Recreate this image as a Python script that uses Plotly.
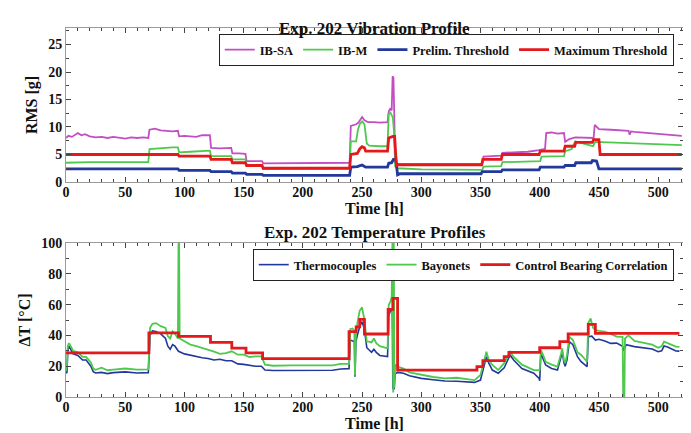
import plotly.graph_objects as go

# ---------------- Top panel: vibration RMS [g] ----------------
sa_t = [0, 2, 5, 8, 10, 13, 16, 20, 25, 30, 35, 40, 45, 50, 55, 60, 65, 69.5, 70.5, 75, 80, 85, 90, 94.5,
        95.5, 100, 105, 110, 115, 121.5, 122.5, 130, 139.5, 140.5, 146, 151.5, 152.5, 160, 165.5, 166.5,
        180, 200, 220, 239.5, 240.5, 245, 247, 250, 252, 255, 260, 265, 271.5, 272.5, 274, 275, 275.8,
        276.5, 277.2, 278, 280, 300, 320, 340, 351.5, 352.5, 360, 367.5, 368.5, 380, 390, 399.5, 404.5,
        405.5, 410, 415, 420.5, 421.5, 425, 430, 440, 445.5, 446.5, 448, 450, 460, 470, 475, 476, 477,
        480, 490, 500, 510, 520]
sa_v = [8.0, 8.4, 8.2, 8.6, 8.9, 8.5, 8.7, 8.3, 8.1, 8.2, 8.0, 8.2, 8.1, 7.9, 8.1, 8.0, 8.1, 8.0, 9.5, 9.7,
        9.4, 9.3, 9.2, 9.3, 8.3, 8.4, 8.3, 8.2, 8.5, 8.5, 6.2, 6.1, 6.2, 5.2, 5.2, 5.1, 3.8, 3.8, 3.8, 3.4,
        3.4, 3.4, 3.5, 3.5, 10.2, 10.5, 10.8, 11.8, 11.2, 10.9, 10.9, 10.8, 10.9, 12.8, 13.4, 13.0, 19.2,
        19.0, 12.0, 3.6, 3.3, 3.3, 3.4, 3.3, 3.3, 4.6, 4.7, 4.8, 5.3, 5.4, 5.5, 5.8, 6.0, 8.9, 9.0, 8.8,
        8.9, 7.3, 7.8, 8.1, 8.0, 8.0, 10.4, 10.0, 9.6, 9.5, 9.3, 9.3, 8.6, 9.2, 9.1, 8.9, 8.8, 8.6, 8.4]

m_t = [0, 10, 20, 40, 69.5, 70.5, 80, 90, 94.5, 95.5, 105, 115, 121.5, 122.5, 139.5, 140.5, 151.5, 152.5,
       165.5, 166.5, 200, 239.5, 240.5, 245, 246.5, 248, 250, 252, 254, 256, 265, 271.5, 272.5, 274, 276,
       277, 278, 280, 300, 351.5, 352.5, 367.5, 368.5, 400.5, 401.5, 420.5, 421.5, 427, 430, 436, 445,
       447, 460, 480, 500, 520]
m_v = [3.5, 3.6, 3.6, 3.6, 3.6, 6.0, 6.2, 6.3, 6.3, 5.4, 5.5, 5.6, 5.7, 4.7, 4.7, 4.1, 4.1, 3.1, 3.1, 2.4,
       2.4, 2.5, 7.4, 7.4, 9.5, 10.5, 11.0, 10.5, 7.0, 6.6, 6.5, 6.5, 12.3, 12.6, 11.7, 9.0, 2.8, 2.5, 2.3,
       2.2, 2.8, 2.9, 3.6, 3.8, 4.6, 4.7, 5.6, 6.0, 7.4, 7.0, 6.5, 7.3, 7.2, 7.1, 6.9, 6.7]

pre_t = [0, 94.5, 95.5, 121.5, 122.5, 139.5, 140.5, 151.5, 152.5, 165.5, 166.5, 239.5, 240.5, 246, 250,
         253, 271.5, 272.5, 275, 276.5, 278.5, 280, 282, 350.5, 351.5, 367.5, 368.5, 399.5, 400.5, 420.5,
         421.5, 429.5, 430.5, 443.5, 444.5, 448, 450, 520]
pre_v = [2.4, 2.4, 2.1, 2.1, 1.9, 1.9, 1.6, 1.6, 1.4, 1.4, 1.2, 1.2, 2.7, 2.8, 3.1, 2.7, 2.7, 3.4, 3.5, 4.1,
         4.1, 1.3, 1.5, 1.5, 1.9, 1.9, 2.2, 2.2, 2.7, 2.7, 3.0, 3.0, 3.5, 3.5, 3.9, 3.8, 2.4, 2.4]

max_t = [0, 94.5, 95.5, 121.5, 122.5, 139.5, 140.5, 151.5, 152.5, 165.5, 166.5, 239.5, 240.5, 246, 248,
         250, 252, 253, 271.5, 272.5, 276, 277.5, 279, 280, 351, 352, 367.5, 368.5, 399.5, 400.5, 420.5,
         421.5, 429.5, 430.5, 444.5, 445.5, 450, 451, 520]
max_v = [5.0, 5.0, 4.7, 4.7, 4.1, 4.1, 3.5, 3.5, 3.0, 3.0, 2.5, 2.5, 5.0, 5.2, 6.0, 6.4, 6.2, 5.6, 5.6, 8.0,
         8.3, 8.3, 3.0, 3.1, 3.1, 4.1, 4.1, 5.0, 5.0, 5.6, 5.6, 6.5, 6.5, 7.2, 7.2, 7.7, 7.7, 5.0, 5.0]

# ---------------- Bottom panel: temperature dT [C] ----------------
tc_t = [0, 0.8, 1.5, 2.5, 4, 6, 10, 14, 17, 19, 21, 23, 25, 30, 35, 40, 50, 60, 69.5, 71, 73, 76, 80, 84,
        86, 88, 90, 92, 95, 100, 105, 110, 115, 120, 125, 130, 135, 140, 145, 150, 155, 160, 165, 168, 175,
        190, 210, 225, 232, 239, 240, 242, 243.5, 244, 244.8, 246, 248, 250, 252, 254, 256, 258, 260, 262,
        265, 271.5, 272.5, 274, 275.5, 276, 277, 278, 280, 285, 290, 300, 310, 320, 330, 345, 350, 353, 355,
        357, 360, 365, 370, 375, 378, 385, 395, 399.5, 400, 401, 403, 405, 410, 415, 418, 419, 420.5, 421.5,
        423, 425, 428, 432, 435, 440, 441, 444, 447, 450, 455, 460, 465, 470, 471, 473, 480, 490, 495, 500,
        503, 505, 508, 515, 518]
tc_v = [15.5, 16, 30, 33, 31, 28, 27, 24, 24, 22, 20, 16.5, 15.6, 16, 15.2, 15.8, 16.3, 15.6, 15.8, 40, 43,
        42.6, 41, 38, 33, 31, 34, 33, 29.7, 28, 27, 26, 25.5, 25, 24, 24.5, 23.5, 23.5, 21.5, 21.2, 20.5, 20,
        20, 17.5, 17.2, 17.3, 17.5, 17.4, 18.2, 18.4, 37, 36.5, 36, 13.2, 36, 40, 45.6, 48.9, 44, 32, 30.5,
        29, 31, 29, 27, 26.2, 53, 56, 56.5, 5.6, 5, 15, 16, 15.4, 13.8, 12.1, 11.2, 10.4, 10.2, 9.5, 11, 20,
        26.2, 22, 17.5, 15.4, 19, 27.3, 24, 18.5, 15.4, 12.1, 10.5, 28.4, 24, 20.8, 18.5, 17.5, 26, 29.4, 22,
        20, 24, 35.9, 34, 26, 22.9, 19.7, 39.2, 39.5, 37, 37.5, 36.4, 34.8, 35, 33, 30, 34, 32.7, 31.6, 31.2,
        29.4, 30, 33.1, 32.5, 29.9, 29.8]

bay_t = [0, 0.8, 1.5, 2.5, 4, 6, 10, 14, 17, 19, 21, 23, 25, 30, 35, 40, 50, 60, 69.5, 71, 73, 76, 80, 84,
         86, 88, 90, 92, 94.5, 95, 95.5, 96, 100, 105, 110, 115, 120, 125, 130, 135, 140, 145, 150, 155, 160,
         165, 168, 175, 190, 210, 225, 232, 239, 240, 242, 243.5, 244, 244.8, 246, 248, 250, 252, 254, 256,
         258, 260, 262, 265, 271.5, 272.5, 274, 275, 275.6, 276.3, 276.8, 277.3, 278, 280, 285, 290, 300,
         310, 320, 330, 340, 345, 350, 353, 355, 357, 360, 365, 370, 375, 378, 385, 395, 400, 401, 403, 405,
         410, 415, 418, 419, 420.5, 421.5, 423, 425, 428, 432, 435, 440, 441, 443, 445, 447, 450, 455, 460,
         465, 470, 470.5, 471.5, 472, 475, 480, 490, 495, 500, 503, 505, 508, 515, 518]
bay_v = [17, 20, 33, 35, 33, 30, 29, 26, 26, 24, 22.5, 18.5, 17.7, 19, 17.4, 17.8, 18.5, 17.8, 18, 45, 47.5,
         48, 46, 44.8, 39.5, 38, 42.6, 41, 38, 100, 100, 38, 36, 34, 33, 32, 31, 29.5, 28, 28.5, 29.7, 27.5,
         27.5, 26, 26.4, 26.4, 21, 20.3, 20.5, 20.5, 20.6, 21.5, 21.5, 44, 44.5, 43, 14, 40, 48, 56, 58.2, 50,
         36, 36, 35.5, 38, 35, 33, 31.6, 59.7, 62, 65, 100, 3, 100, 6, 21, 19.7, 18.5, 16, 14.3, 13, 12.1,
         12.5, 11.5, 11, 14.3, 24, 29.4, 24, 20.8, 17.5, 22, 29.4, 26, 21, 17.5, 17.5, 30.5, 27, 22.9, 21,
         19.7, 28, 31.6, 24, 22, 27, 39.2, 37, 29, 27.3, 22.9, 48, 51, 45, 43.5, 43, 42.4, 41, 39.2, 39, 0, 0,
         38, 40, 36.4, 34.8, 34, 32, 33, 35.9, 35, 32.7, 32.5]

cbc_t = [0, 70, 95, 122, 140, 152, 166, 239, 245, 248, 252, 272, 276, 280, 347, 352, 370, 374, 400, 417,
         424, 441, 447, 518]
cbc_v = [28.6, 41.6, 39.4, 35.5, 31.8, 28.6, 24.9, 42.4, 45.6, 50.4, 40.9, 56.9, 64, 17.5, 19.7, 23.6,
         26.2, 29, 32, 35.9, 40.9, 47.2, 41.3, 41.3]

C_MAG = "#c24fc2"
C_GRN = "#4ec94e"
C_BLU = "#22389a"
C_RED = "#e3191c"

FONT = "Liberation Serif"

fig = go.Figure()
fig.add_trace(go.Scatter(x=sa_t, y=sa_v, name="<b>IB-SA</b>", mode="lines",
                         line=dict(color=C_MAG, width=1.8), xaxis="x", yaxis="y", legend="legend"))
fig.add_trace(go.Scatter(x=m_t, y=m_v, name="<b>IB-M</b>", mode="lines",
                         line=dict(color=C_GRN, width=1.8), xaxis="x", yaxis="y", legend="legend"))
fig.add_trace(go.Scatter(x=pre_t, y=pre_v, name="<b>Prelim. Threshold</b>", mode="lines",
                         line=dict(color=C_BLU, width=2.8), xaxis="x", yaxis="y", legend="legend"))
fig.add_trace(go.Scatter(x=max_t, y=max_v, name="<b>Maximum Threshold</b>", mode="lines",
                         line=dict(color=C_RED, width=2.8), xaxis="x", yaxis="y", legend="legend"))

fig.add_trace(go.Scatter(x=tc_t, y=tc_v, name="<b>Thermocouples</b>", mode="lines",
                         line=dict(color=C_BLU, width=1.6), xaxis="x2", yaxis="y2", legend="legend2"))
fig.add_trace(go.Scatter(x=bay_t, y=bay_v, name="<b>Bayonets</b>", mode="lines",
                         line=dict(color=C_GRN, width=1.8), xaxis="x2", yaxis="y2", legend="legend2"))
fig.add_trace(go.Scatter(x=cbc_t, y=cbc_v, name="<b>Control Bearing Correlation</b>", mode="lines",
                         line=dict(color=C_RED, width=2.8, shape="hv"), xaxis="x2", yaxis="y2",
                         legend="legend2"))

tickfont = dict(family=FONT, size=14, color="#111", weight="bold")
titlefont = dict(family=FONT, size=16, color="#111", weight="bold")


def xax(anchor, title):
    return dict(domain=[0, 1], anchor=anchor, range=[0, 521], dtick=50, tick0=0, automargin=True,
                ticks="inside", ticklen=5, tickcolor="#444", mirror="allticks", ticklabelstandoff=-3,
                showline=True, linecolor="#9a9a9a", linewidth=1, showgrid=False, zeroline=False,
                tickfont=tickfont, title=dict(text="<b>" + title + "</b>", font=titlefont, standoff=2),
                minor=dict(ticks="inside", dtick=10, ticklen=3, tickcolor="#444"))


def yax(anchor, domain, rng, dtick, mdtick, title):
    return dict(domain=domain, anchor=anchor, range=rng, dtick=dtick, tick0=0, automargin=True,
                ticks="inside", ticklen=5, tickcolor="#444", mirror="allticks",
                showline=True, linecolor="#9a9a9a", linewidth=1, showgrid=False, zeroline=False,
                tickfont=tickfont, title=dict(text="<b>" + title + "</b>", font=titlefont, standoff=6),
                minor=dict(ticks="inside", dtick=mdtick, ticklen=3, tickcolor="#444"))


legfont = dict(family=FONT, size=12.5, color="#111", weight="bold")

# the page body adds an 8px margin, so the figure is sized to fit inside the window
FIG_W, FIG_H = 677, 425
M_L, M_R, M_T, M_B = 58, 2, 20, 36
plot_h = FIG_H - M_T - M_B

fig.update_layout(
    width=FIG_W, height=FIG_H,
    margin=dict(l=M_L, r=M_R, t=M_T, b=M_B, autoexpand=False),
    paper_bgcolor="white", plot_bgcolor="white",
    xaxis=xax("y", "Time [h]"),
    yaxis=yax("x", [0.5827, 1.0], [0, 28], 5, 2.5, "RMS [g]"),
    xaxis2=xax("y2", "Time [h]"),
    yaxis2=yax("x2", [0.0, 0.4173], [0, 100], 20, 10, "ΔT [°C]"),
    legend=dict(orientation="h", x=0.985, xanchor="right", y=1 - 6 / plot_h, yanchor="top",
                bgcolor="white", bordercolor="#222", borderwidth=1, font=legfont,
                itemwidth=30, tracegroupgap=0),
    legend2=dict(orientation="h", x=0.985, xanchor="right", y=1 - 221 / plot_h, yanchor="top",
                 bgcolor="white", bordercolor="#222", borderwidth=1, font=legfont,
                 itemwidth=30, tracegroupgap=0),
    annotations=[
        dict(text="<b>Exp. 202 Vibration Profile</b>", x=0.5, xref="paper",
             y=1 + 11 / plot_h, yref="paper", showarrow=False,
             font=dict(family=FONT, size=17, color="#111")),
        dict(text="<b>Exp. 202 Temperature Profiles</b>", x=0.5, xref="paper",
             y=1 - 204 / plot_h, yref="paper", showarrow=False,
             font=dict(family=FONT, size=17, color="#111")),
    ],
    showlegend=True,
)

fig.write_html("out.html")
